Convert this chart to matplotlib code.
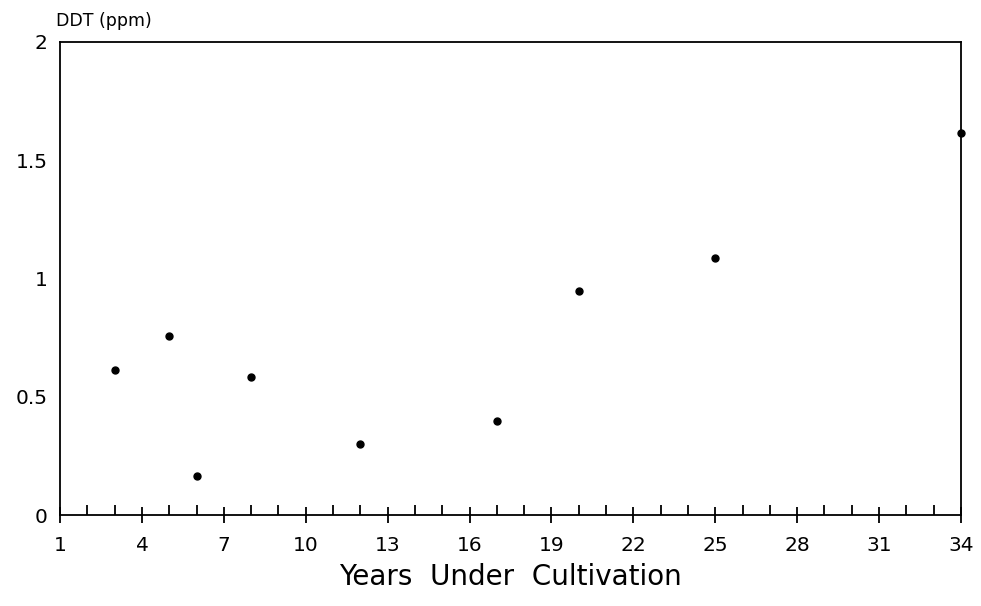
import numpy as np
import matplotlib.pyplot as plt
from matplotlib.ticker import MultipleLocator

years = [3, 5, 6, 8, 12, 17, 20, 25, 34]
ddt = [0.613, 0.757, 0.165, 0.584, 0.30, 0.397, 0.947, 1.087, 1.615]

xticks = list(range(1, 35, 3))
yticks = [0, 0.5, 1, 1.5, 2]
ytick_labels = ["0", "0.5", "1", "1.5", "2"]

plt.rcParams['font.family'] = ['DejaVu Sans']

fig = plt.figure(figsize=(9.81, 6.06), dpi=100)
ax = fig.add_axes([0.0612, 0.150, 0.9184, 0.781])

ax.plot(years, ddt, 'o', color='black', ms=5, clip_on=False)

ax.set_xlim(1, 34)
ax.set_ylim(0, 2)
ax.set_xticks(xticks)
ax.xaxis.set_minor_locator(MultipleLocator(1))
ax.tick_params(axis='x', which='major', direction='inout', length=12, width=1.3,
               labelsize=14.5, pad=9)
ax.tick_params(axis='x', which='minor', direction='in', length=7, width=1.3)
ax.set_yticks(yticks)
ax.set_yticklabels(ytick_labels)
ax.tick_params(axis='y', length=0, labelsize=14.5, pad=9)

for s in ax.spines.values():
    s.set_linewidth(1.3)

ax.set_xlabel("Years  Under  Cultivation", fontsize=20, labelpad=6)
ax.text(-0.004, 1.025, "DDT (ppm)", transform=ax.transAxes, fontsize=12.5,
        ha='left', va='bottom')

fig.savefig("out.png", dpi=100)
